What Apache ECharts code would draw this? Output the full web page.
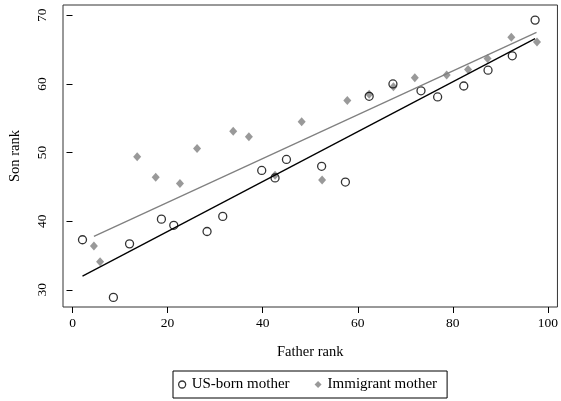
<!DOCTYPE html>
<html>
<head>
<meta charset="utf-8">
<script src="https://cdn.jsdelivr.net/npm/echarts@6/dist/echarts.min.js"></script>
<style>
html,body{margin:0;padding:0;background:#fff;}
#chart{width:561px;height:401px;}
</style>
</head>
<body>
<div id="chart"></div>
<script>
// Data
var usFather = [2.1, 8.6, 12.0, 18.7, 21.3, 28.3, 31.6, 39.8, 42.6, 45.0, 52.4, 57.4, 62.4, 67.4, 73.3, 76.8, 82.3, 87.4, 92.5, 97.3];
var usSon    = [37.3, 28.9, 36.7, 40.3, 39.4, 38.5, 40.7, 47.4, 46.3, 49.0, 48.0, 45.7, 58.2, 60.0, 59.0, 58.1, 59.7, 62.0, 64.1, 69.3];
var imFather = [4.5, 5.8, 13.6, 17.5, 22.6, 26.2, 33.8, 37.1, 42.6, 48.2, 52.5, 57.8, 62.4, 67.5, 72.0, 78.7, 83.2, 87.3, 92.3, 97.7];
var imSon    = [36.4, 34.1, 49.4, 46.4, 45.5, 50.6, 53.1, 52.3, 46.7, 54.5, 46.0, 57.6, 58.5, 59.6, 60.9, 61.3, 62.1, 63.7, 66.8, 66.1];
var usFitX = [2.1, 97.3];
var usFitY = [32.0, 66.6];
var imFitX = [4.5, 97.6];
var imFitY = [37.8, 67.5];
var xTicks = [0, 20, 40, 60, 80, 100];
var yTicks = [30, 40, 50, 60, 70];
var seriesNames = ['US-born mother', 'Immigrant mother'];

function pairs(xs, ys) { return xs.map(function (x, i) { return [x, ys[i]]; }); }

var font = 'Liberation Serif, Times New Roman, serif';
var chart = echarts.init(document.getElementById('chart'), null, {renderer: 'canvas'});
chart.setOption({
  animation: false,
  backgroundColor: '#fff',
  textStyle: {fontFamily: font},
  grid: {left: 60, top: 5, right: 1, bottom: 94, show: true, borderColor: '#333', borderWidth: 1, backgroundColor: 'transparent'},
  xAxis: {
    type: 'value', min: -2, max: 102,
    name: 'Father rank', nameLocation: 'middle', nameGap: 38,
    nameTextStyle: {fontFamily: font, fontSize: 14.5, color: '#000'},
    axisLine: {show: false},
    axisTick: {show: true, length: 6, inside: false, customValues: xTicks, lineStyle: {color: '#000'}},
    axisLabel: {customValues: xTicks, margin: 9, fontFamily: font, fontSize: 13.5, color: '#000'},
    splitLine: {show: false}
  },
  yAxis: {
    type: 'value', min: 27.5, max: 71.5,
    name: 'Son rank', nameLocation: 'middle', nameGap: 40, nameRotate: 90,
    nameTextStyle: {fontFamily: font, fontSize: 14.5, color: '#000'},
    axisLine: {show: false},
    axisTick: {show: true, length: 6, inside: false, customValues: yTicks, lineStyle: {color: '#000'}},
    axisLabel: {customValues: yTicks, rotate: 90, margin: 14, fontFamily: font, fontSize: 13.5, color: '#000'},
    splitLine: {show: false}
  },
  legend: {
    left: 173, top: 371,
    padding: [6, 10, 6, 5],
    borderColor: '#000', borderWidth: 1,
    itemWidth: 7, itemHeight: 7, itemGap: 25,
    textStyle: {fontFamily: font, fontSize: 15, color: '#000', padding: [0, 0, 0, 1]},
    data: [
      {name: seriesNames[0], icon: 'circle', itemStyle: {color: '#fff', borderColor: '#000', borderWidth: 1.3}},
      {name: seriesNames[1], icon: 'diamond', itemStyle: {color: '#808080', borderWidth: 0}}
    ]
  },
  series: [
    {
      name: seriesNames[0], type: 'scatter', symbol: 'circle', symbolSize: 8,
      itemStyle: {color: 'rgba(255,255,255,0)', borderColor: '#000', borderWidth: 1.3},
      data: pairs(usFather, usSon), z: 3
    },
    {
      name: seriesNames[1], type: 'scatter', symbol: 'diamond', symbolSize: [8, 9],
      itemStyle: {color: '#808080'},
      data: pairs(imFather, imSon), z: 2
    },
    {
      name: 'fitUS', type: 'line', showSymbol: false, symbol: 'none',
      lineStyle: {color: '#000', width: 1.3}, data: pairs(usFitX, usFitY), z: 4
    },
    {
      name: 'fitIM', type: 'line', showSymbol: false, symbol: 'none',
      lineStyle: {color: '#808080', width: 1.3}, data: pairs(imFitX, imFitY), z: 4
    }
  ]
});
</script>
</body>
</html>
